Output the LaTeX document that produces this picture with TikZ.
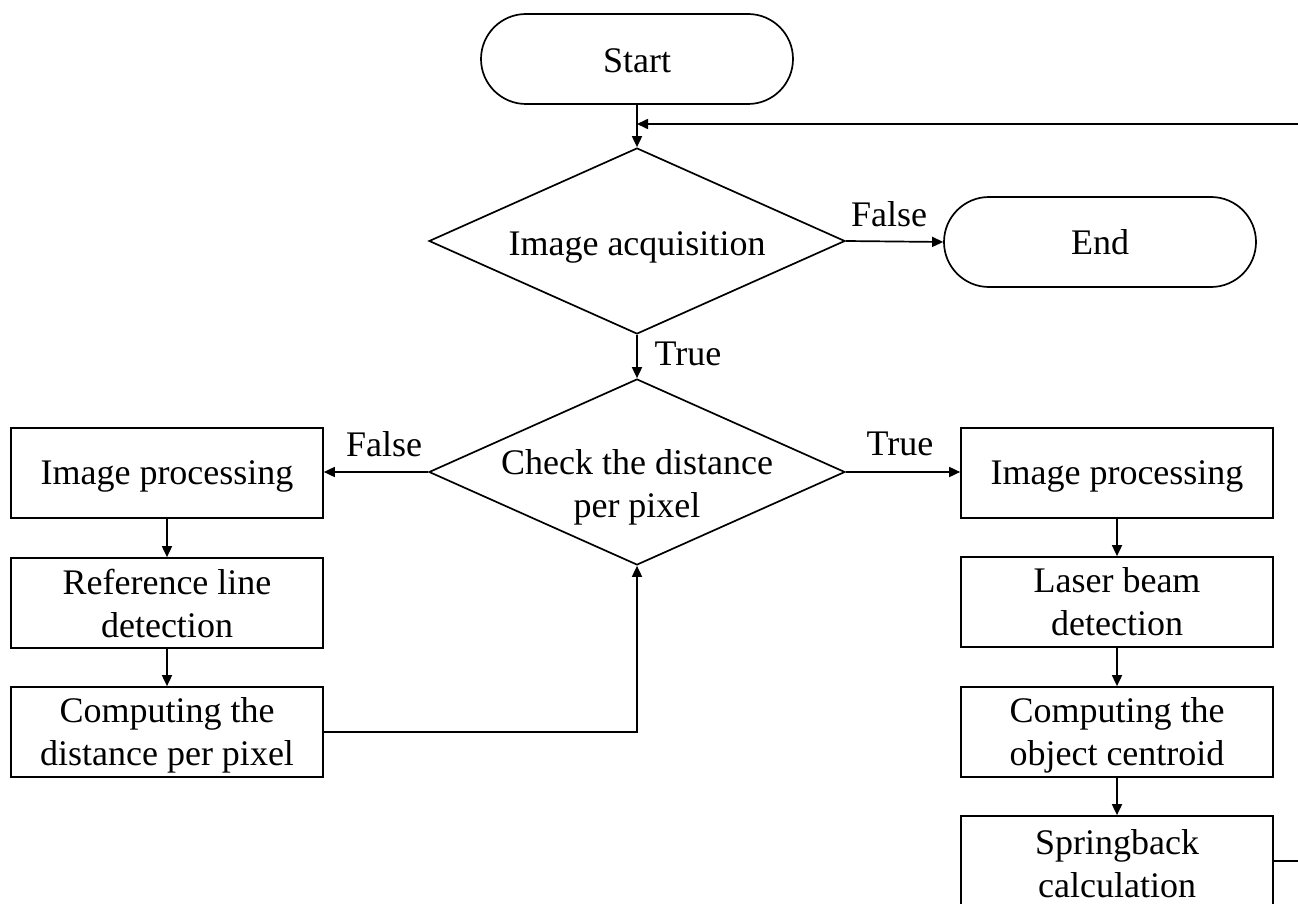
\documentclass[tikz,border=0pt]{standalone}
\usepackage{fontspec}
\setmainfont{Liberation Serif}
\usetikzlibrary{shapes.geometric,arrows.meta}
\begin{document}
\begin{tikzpicture}[x=1pt,y=-1pt,
 line width=1.7pt,
 every node/.style={font=\fontsize{36}{43}\selectfont},
 term/.style={draw, rounded corners=45pt, minimum width=312pt, minimum height=90pt, inner sep=0pt, text depth=0pt},
 dec/.style={draw, diamond, minimum width=416pt, minimum height=186pt, inner sep=-30pt, aspect=2.2, align=center, text depth=0pt},
 proc/.style={draw, minimum width=312pt, minimum height=90pt, inner sep=0pt, align=center, text depth=0pt},
 arr/.style={-{Triangle[length=11pt,width=10pt]}},
 lbl/.style={inner sep=0pt}]
\useasboundingbox (0,0) rectangle (1298,904);
\node[term] (start) at (637,59) {\rule{0pt}{28pt}Start};
\node[dec] (acq) at (637,241) {\rule{0pt}{28pt}Image acquisition};
\node[term] (end) at (1100,242) {End};
\node[dec] (check) at (637,472) {\rule{0pt}{48pt}Check the distance\\per pixel};
\node[proc] (l1) at (167,473) {Image processing};
\node[proc] (l2) at (167,603) {Reference line\\detection};
\node[proc] (l3) at (167,732) {Computing the\\distance per pixel};
\node[proc] (r1) at (1117,473) {Image processing};
\node[proc] (r2) at (1117,602) {Laser beam\\detection};
\node[proc] (r3) at (1117,732) {Computing the\\object centroid};
\node[proc] (r4) at (1117,861) {\rule{0pt}{30pt}Springback\\calculation};
\coordinate (fbin) at (1298,124);
\coordinate (fbmid) at (637,124);
\coordinate (sbout) at (1298,861);
\draw[arr] (start) -- (acq);
\draw[arr] (fbin) -- (fbmid);
\draw[arr] (acq.east) -- (end.west);
\node[lbl] at (889,214) {False};
\draw[arr] (acq.south) -- (check.north);
\node[lbl] at (688,354) {True};
\draw[arr] (check.west) -- (l1.east |- check.west);
\node[lbl] at (384,444) {False};
\draw[arr] (check.east) -- (r1.west |- check.east);
\node[lbl] at (900,444) {True};
\draw[arr] (l1) -- (l2);
\draw[arr] (l2) -- (l3);
\draw[arr] (l3.east) -| (check.south);
\draw[arr] (r1) -- (r2);
\draw[arr] (r2) -- (r3);
\draw[arr] (r3) -- (r4);
\draw (r4.east) -- (sbout);
\end{tikzpicture}
\end{document}
